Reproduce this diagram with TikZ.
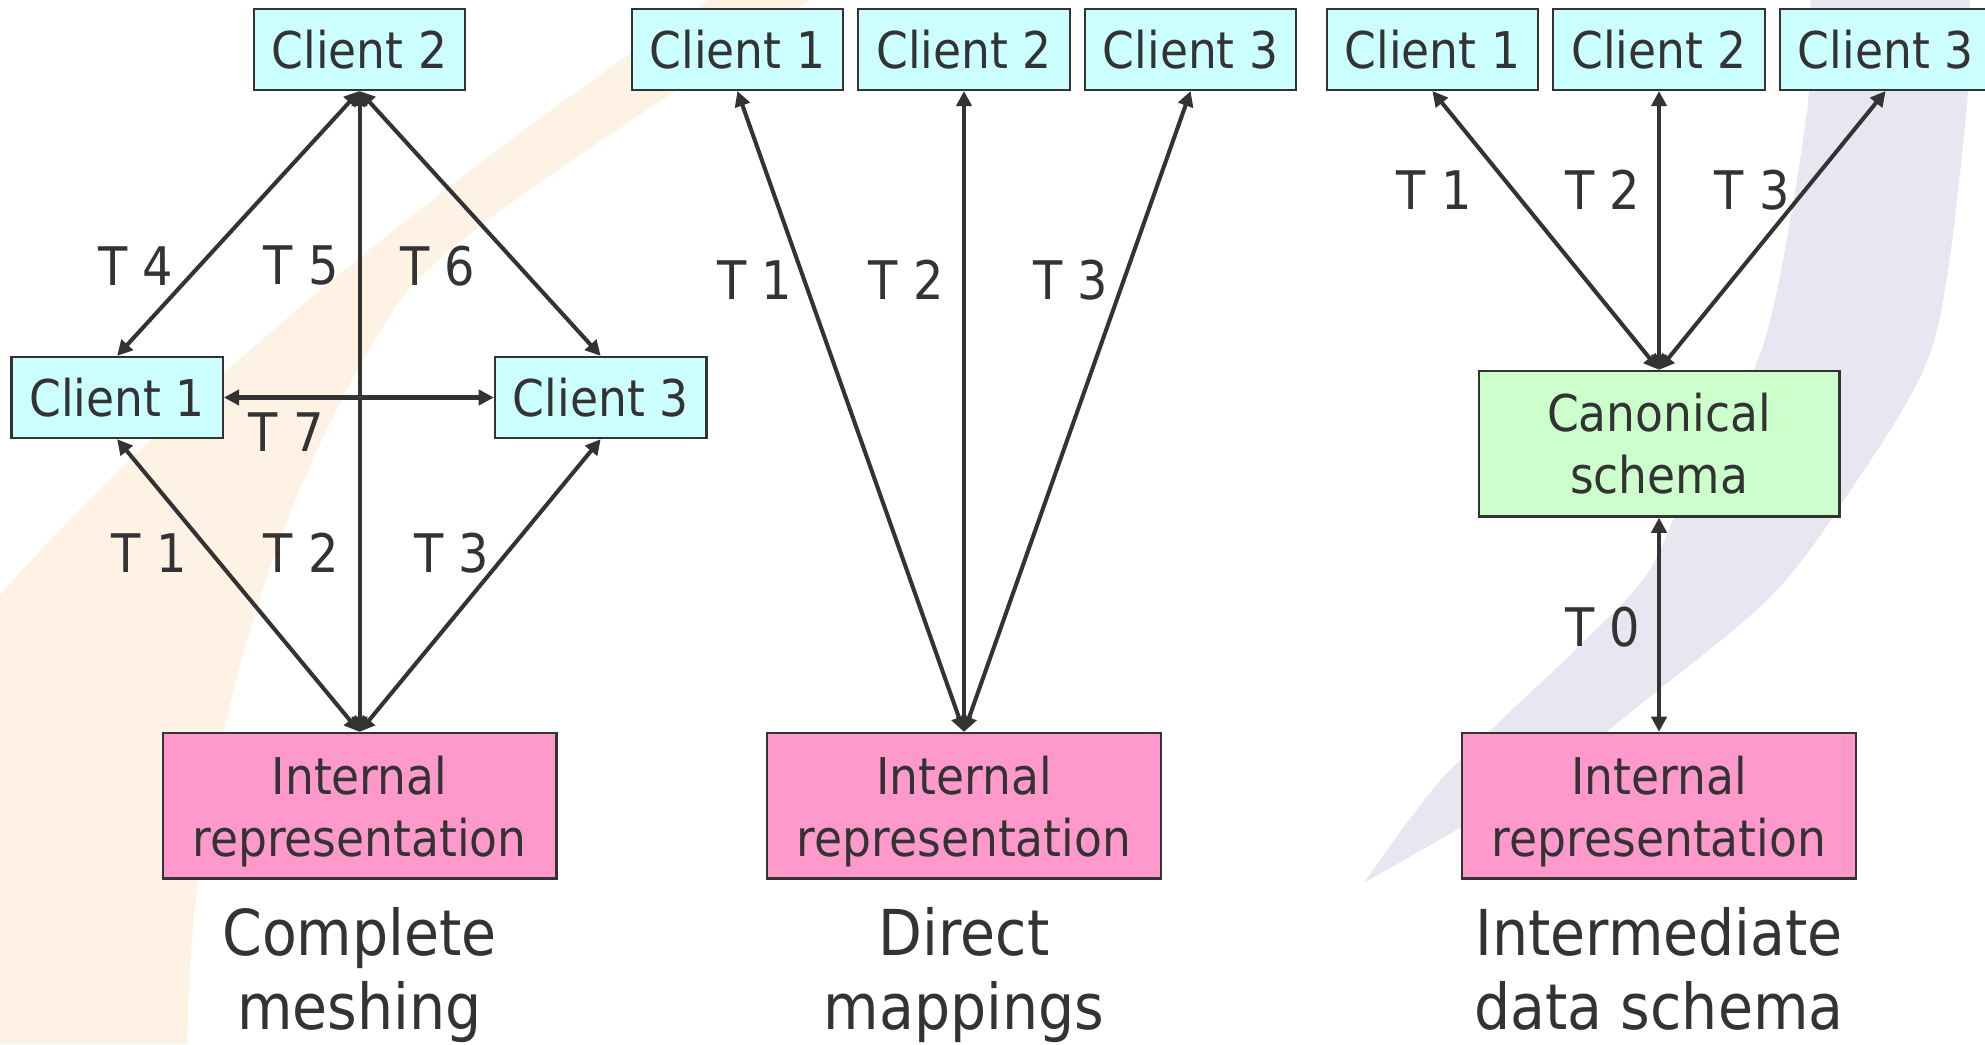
\documentclass[tikz,border=0pt]{standalone}
\usepackage{fontspec}
\setmainfont{DejaVu Sans}[FakeStretch=0.9]
\usetikzlibrary{arrows.meta}
\definecolor{ink}{HTML}{333333}
\definecolor{cyanbox}{HTML}{CCFFFF}
\definecolor{pinkbox}{HTML}{FF99CC}
\definecolor{greenbox}{HTML}{CCFFCC}
\definecolor{peach}{RGB}{253,242,228}
\definecolor{lav}{RGB}{231,231,242}
\tikzset{
  client/.style={draw=ink, fill=cyanbox, line width=0.9pt, minimum width=83.5pt, minimum height=32pt,
    inner sep=0pt, text=ink, font=\fontsize{20}{25}\selectfont},
  bigbox/.style={draw=ink, line width=0.9pt, minimum height=57.5pt, inner sep=0pt, align=center,
    text depth=0pt, text=ink, font=\fontsize{20}{24.5}\selectfont},
  internal/.style={bigbox, fill=pinkbox, minimum width=155.5pt},
  canon/.style={bigbox, fill=greenbox, minimum width=142.5pt},
  lbl/.style={inner sep=0pt, text=ink, font=\fontsize{21}{25}\selectfont},
  caption/.style={inner sep=0pt, align=center, text depth=0pt, text=ink, font=\fontsize{25}{29}\selectfont},
  link/.style={draw=ink, line width=1.6pt, {Triangle[length=6pt,width=6pt]}-{Triangle[length=6pt,width=6pt]}}
}
\begin{document}
\begin{tikzpicture}[x=0.5pt,y=-0.5pt]
\useasboundingbox (0,0) rectangle (1568,825);
\clip (0,0) rectangle (1568,825);
\fill[white] (0,0) rectangle (1568,825);
% background swooshes
\fill[peach] (0,470) .. controls (150,300) and (380,120) .. (560,0) -- (640,0)
  .. controls (480,110) and (360,180) .. (316,237)
  .. controls (220,380) and (150,600) .. (148,825) -- (0,825) -- cycle;
\fill[lav] plot[smooth] coordinates {(1556,0) (1553,91) (1527,272) (1460,390) (1400,470) (1310,545) (1220,614) (1078,697)}
  -- plot[smooth] coordinates {(1078,697) (1140,614) (1248,510) (1300,455) (1330,393) (1393,272) (1427,91) (1430,0)} -- cycle;

% left diagram: complete meshing
\node[client] (lc2) at (284,39) {Client 2};
\node[client] (lc1) at (92.5,314) {Client 1};
\node[client] (lc3) at (474.5,314) {Client 3};
\node[internal] (lir) at (284,636.5) {Internal\\representation};
\node[caption] (lcap) at (284,765) {Complete\\meshing};
\draw[link] (lc2.south) -- (lc1.north);
\draw[link] (lc2.south) -- (lc3.north);
\draw[link] (lc2.south) -- (lir.north);
\draw[link, line width=2.1pt] (lc1.east) -- (lc3.west);
\draw[link] (lir.north) -- (lc1.south);
\draw[link] (lir.north) -- (lc3.south);
\node[lbl] (lt4) at (107,210) {T 4};
\node[lbl] (lt5) at (238,210) {T 5};
\node[lbl] (lt6) at (346,210) {T 6};
\node[lbl] (lt7) at (226,341) {T 7};
\node[lbl] (lt1) at (118,437) {T 1};
\node[lbl] (lt2) at (238,437) {T 2};
\node[lbl] (lt3) at (357,437) {T 3};

% middle diagram: direct mappings
\node[client] (mc1) at (582.5,39) {Client 1};
\node[client] (mc2) at (761.5,39) {Client 2};
\node[client] (mc3) at (940.5,39) {Client 3};
\node[internal] (mir) at (761.5,636.5) {Internal\\representation};
\node[caption] (mcap) at (761.5,765) {Direct\\mappings};
\draw[link] (mir.north) -- (mc1.south);
\draw[link] (mir.north) -- (mc2.south);
\draw[link] (mir.north) -- (mc3.south);
\node[lbl] (mt1) at (596,221) {T 1};
\node[lbl] (mt2) at (716,221) {T 2};
\node[lbl] (mt3) at (846,221) {T 3};

% right diagram: intermediate data schema
\node[client] (rc1) at (1131.5,39) {Client 1};
\node[client] (rc2) at (1310.5,39) {Client 2};
\node[client] (rc3) at (1489.5,39) {Client 3};
\node[canon] (can) at (1310.5,350.5) {Canonical\\schema};
\node[internal] (rir) at (1310.5,636.5) {Internal\\representation};
\node[caption] (rcap) at (1310.5,765) {Intermediate\\data schema};
\draw[link] (can.north) -- (rc1.south);
\draw[link] (can.north) -- (rc2.south);
\draw[link] (can.north) -- (rc3.south);
\draw[link] (can.south) -- (rir.north);
\node[lbl] (rt1) at (1133,150) {T 1};
\node[lbl] (rt2) at (1266,150) {T 2};
\node[lbl] (rt3) at (1384,150) {T 3};
\node[lbl] (rt0) at (1266,495) {T 0};
\end{tikzpicture}
\end{document}
